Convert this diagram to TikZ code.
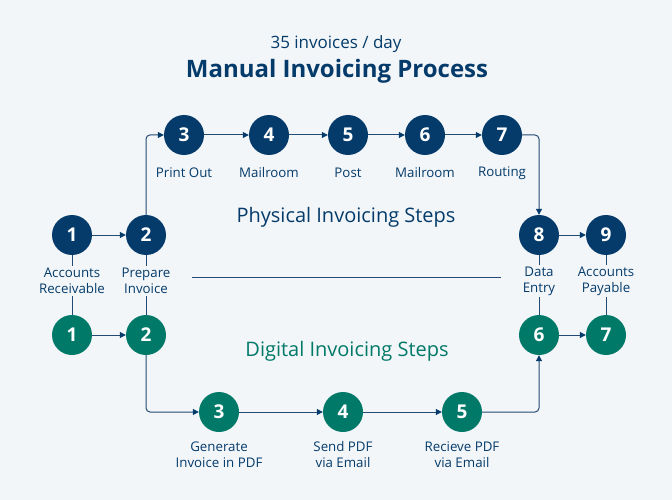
\documentclass[tikz,border=0pt]{standalone}
\usepackage{fontspec}
\setmainfont{Open Sans}
\usetikzlibrary{arrows.meta}
\definecolor{navy}{RGB}{4,59,106}
\definecolor{teal}{RGB}{0,121,104}
\definecolor{bg}{RGB}{243,246,249}
\definecolor{wire}{RGB}{35,75,115}
\tikzset{
  navystep/.style={circle, fill=navy, text=white, minimum size=40pt, inner sep=0pt, font=\fontsize{19}{19}\selectfont\bfseries},
  tealstep/.style={navystep, fill=teal},
  steplabel/.style={fill=bg, text=navy, align=center, inner sep=2pt, font=\fontsize{13.3}{16}\selectfont},
  wireline/.style={draw=wire, line width=1pt, rounded corners=4pt},
  flow/.style={wireline, -{Triangle[length=6pt, width=6pt, color=navy]}}
}
\begin{document}
\begin{tikzpicture}[x=1pt, y=-1pt]
  \filldraw[fill=bg, draw=none] (0,0) rectangle (672,500);
  \node[text=navy, font=\fontsize{17}{17}\selectfont] (sub) at (336,44) {35 invoices / day};
  \node[text=navy, font=\fontsize{24}{24}\selectfont\bfseries] (title) at (337,71) {Manual Invoicing Process};
  % stubs and divider behind labels
  \node[navystep] (p1) at (72,235) {1};
  \node[navystep] (p2) at (146,235) {2};
  \node[navystep] (p3) at (184,135) {3};
  \node[navystep] (p4) at (269,135) {4};
  \node[navystep] (p5) at (348,135) {5};
  \node[navystep] (p6) at (425,135) {6};
  \node[navystep] (p7) at (502,135) {7};
  \node[navystep] (p8) at (539,235) {8};
  \node[navystep] (p9) at (606,235) {9};
  \node[tealstep] (d1) at (72,335) {1};
  \node[tealstep] (d2) at (146,335) {2};
  \node[tealstep] (d3) at (219,412) {3};
  \node[tealstep] (d4) at (343,412) {4};
  \node[tealstep] (d5) at (462,412) {5};
  \node[tealstep] (d6) at (539,335) {6};
  \node[tealstep] (d7) at (606,335) {7};
  \draw[wireline] (p1) -- (d1);
  \draw[wireline] (p2) -- (d2);
  \draw[wireline] (p8) -- (d6);
  \draw[wireline] (p9) -- (d7);
  \coordinate (divl) at (192,277);
  \coordinate (divr) at (501,277);
  \draw[wireline] (divl) -- (divr);
  % physical flow
  \draw[flow] (p1) -- (p2);
  \draw[flow] (p2.north) |- (p3);
  \draw[flow] (p3) -- (p4);
  \draw[flow] (p4) -- (p5);
  \draw[flow] (p5) -- (p6);
  \draw[flow] (p6) -- (p7);
  \draw[flow] (p7.east) -| (p8);
  \draw[flow] (p8) -- (p9);
  % digital flow
  \draw[flow] (d1) -- (d2);
  \draw[flow] (d2.south) |- (d3);
  \draw[flow] (d3) -- (d4);
  \draw[flow] (d4) -- (d5);
  \draw[flow] (d5.east) -| (d6);
  \draw[flow] (d6) -- (d7);
  % labels
  \node[steplabel] (l1) at (72,281) {Accounts\\Receivable};
  \node[steplabel] (l2) at (146,281) {Prepare\\Invoice};
  \node[steplabel] (l8) at (539,281) {Data\\Entry};
  \node[steplabel] (l9) at (606,281) {Accounts\\Payable};
  \node[steplabel] (l3) at (184,173) {Print Out};
  \node[steplabel] (l4) at (269,173) {Mailroom};
  \node[steplabel] (l5) at (348,173) {Post};
  \node[steplabel] (l6) at (425,173) {Mailroom};
  \node[steplabel] (l7) at (502,173) {Routing};
  \node[steplabel] (m3) at (219,455) {Generate\\Invoice in PDF};
  \node[steplabel] (m4) at (343,455) {Send PDF\\via Email};
  \node[steplabel] (m5) at (462,455) {Recieve PDF\\via Email};
  \node[text=navy, font=\fontsize{20}{20}\selectfont] (phys) at (346,217) {Physical Invoicing Steps};
  \node[text=teal, font=\fontsize{20}{20}\selectfont] (digi) at (347,351) {Digital Invoicing Steps};
\end{tikzpicture}
\end{document}
